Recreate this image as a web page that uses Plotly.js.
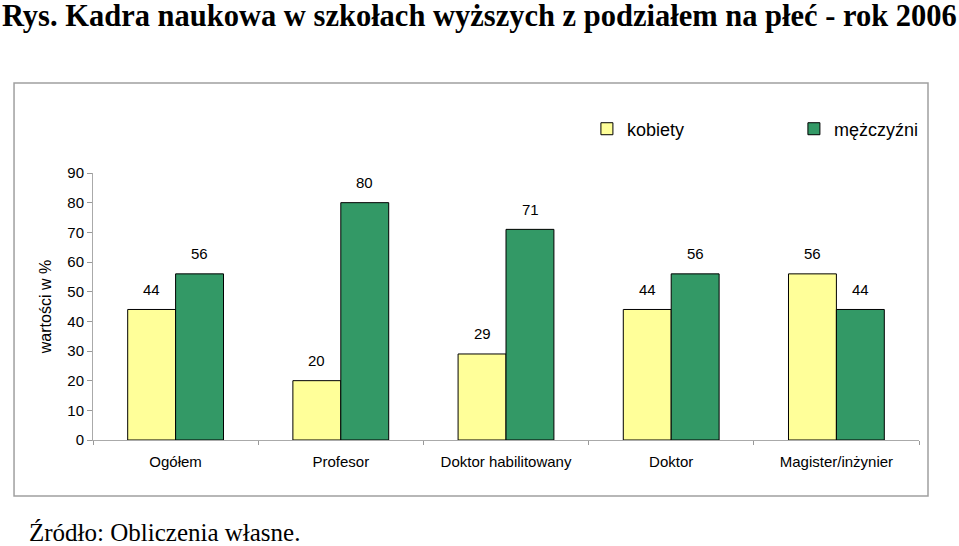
<!DOCTYPE html>
<html>
<head>
<meta charset="utf-8">
<script src="https://cdn.plot.ly/plotly-3.0.1.min.js"></script>
<style>html,body{margin:0;padding:0;background:#fff;}#chart{width:959px;height:546px;}</style>
</head>
<body>
<div id="chart"></div>
<script>
const categories = ['Ogółem', 'Profesor', 'Doktor habilitowany', 'Doktor', 'Magister/inżynier'];
const kobiety = [44, 20, 29, 44, 56];
const mezczyzni = [56, 80, 71, 56, 44];
const seriesNames = ['kobiety', 'mężczyźni'];
const yTicks = [0, 10, 20, 30, 40, 50, 60, 70, 80, 90];
const titleText = 'Rys. Kadra naukowa w szkołach wyższych z podziałem na płeć - rok 2006';
const sourceText = 'Źródło: Obliczenia własne.';
const yTitle = 'wartości w %';

const sans = 'Liberation Sans, Arial, sans-serif';
const serif = 'Liberation Serif, Times New Roman, serif';

const traces = [
  {type: 'bar', name: seriesNames[0], x: categories, y: kobiety,
   marker: {color: '#FFFF99', line: {color: '#000', width: 1}}, hoverinfo: 'none'},
  {type: 'bar', name: seriesNames[1], x: categories, y: mezczyzni,
   marker: {color: '#339966', line: {color: '#000', width: 1}}, hoverinfo: 'none'}
];

const annotations = [];
[kobiety, mezczyzni].forEach((vals, si) => {
  vals.forEach((v, i) => {
    annotations.push({x: categories[i], y: v, xref: 'x', yref: 'y', text: String(v),
      showarrow: false, xshift: si === 0 ? -24 : 24, yshift: 20, yanchor: 'middle',
      font: {family: sans, size: 15, color: '#000'}});
  });
});
annotations.push({x: 0, xref: 'paper', y: -0.345, yref: 'paper', xanchor: 'left', yanchor: 'middle',
  xshift: -66, text: sourceText, showarrow: false, font: {family: serif, size: 25, color: '#000'}});

const layout = {
  width: 959, height: 546,
  margin: {l: 93, r: 40, t: 173, b: 106},
  paper_bgcolor: '#fff', plot_bgcolor: '#fff',
  title: {text: '<b>' + titleText + '</b>', x: 0.002, xanchor: 'left', xref: 'container',
    y: 0.992, yanchor: 'top', yref: 'container', pad: {t: 0, b: 0, l: 0, r: 0},
    font: {family: serif, size: 30.5, color: '#000'}},
  barmode: 'group', bargap: 0.42, bargroupgap: 0,
  showlegend: true,
  legend: {orientation: 'h', xref: 'container', yref: 'container', x: 0.612, xanchor: 'left',
    y: 0.7637, yanchor: 'middle',
    font: {family: sans, size: 18, color: '#000'}, entrywidth: 162, entrywidthmode: 'pixels',
    bgcolor: 'rgba(0,0,0,0)', traceorder: 'normal'},
  xaxis: {type: 'category', tickson: 'boundaries', ticks: 'outside', ticklen: 4, tickcolor: '#999',
    showline: true, linecolor: '#aaa', linewidth: 1, showgrid: false, zeroline: false,
    ticklabelstandoff: 8,
    tickfont: {family: sans, size: 15, color: '#000'}, automargin: false, fixedrange: true},
  yaxis: {range: [0, 90], tickvals: yTicks, ticks: 'outside', ticklen: 5, tickcolor: '#999',
    showline: true, linecolor: '#aaa', linewidth: 1, showgrid: false, zeroline: false,
    tickfont: {family: sans, size: 15, color: '#000'}, automargin: false,
    title: {text: yTitle, font: {family: sans, size: 16, color: '#000'}, standoff: 11}},
  annotations: annotations,
  shapes: [{type: 'rect', xref: 'paper', yref: 'paper', x0: -0.0956, x1: 1.0109, y0: -0.2097, y1: 1.337,
    line: {color: '#a0a0a0', width: 1.5}, fillcolor: 'rgba(0,0,0,0)', layer: 'below'}]
};

Plotly.newPlot('chart', traces, layout, {displayModeBar: false, staticPlot: true});
</script>
</body>
</html>
